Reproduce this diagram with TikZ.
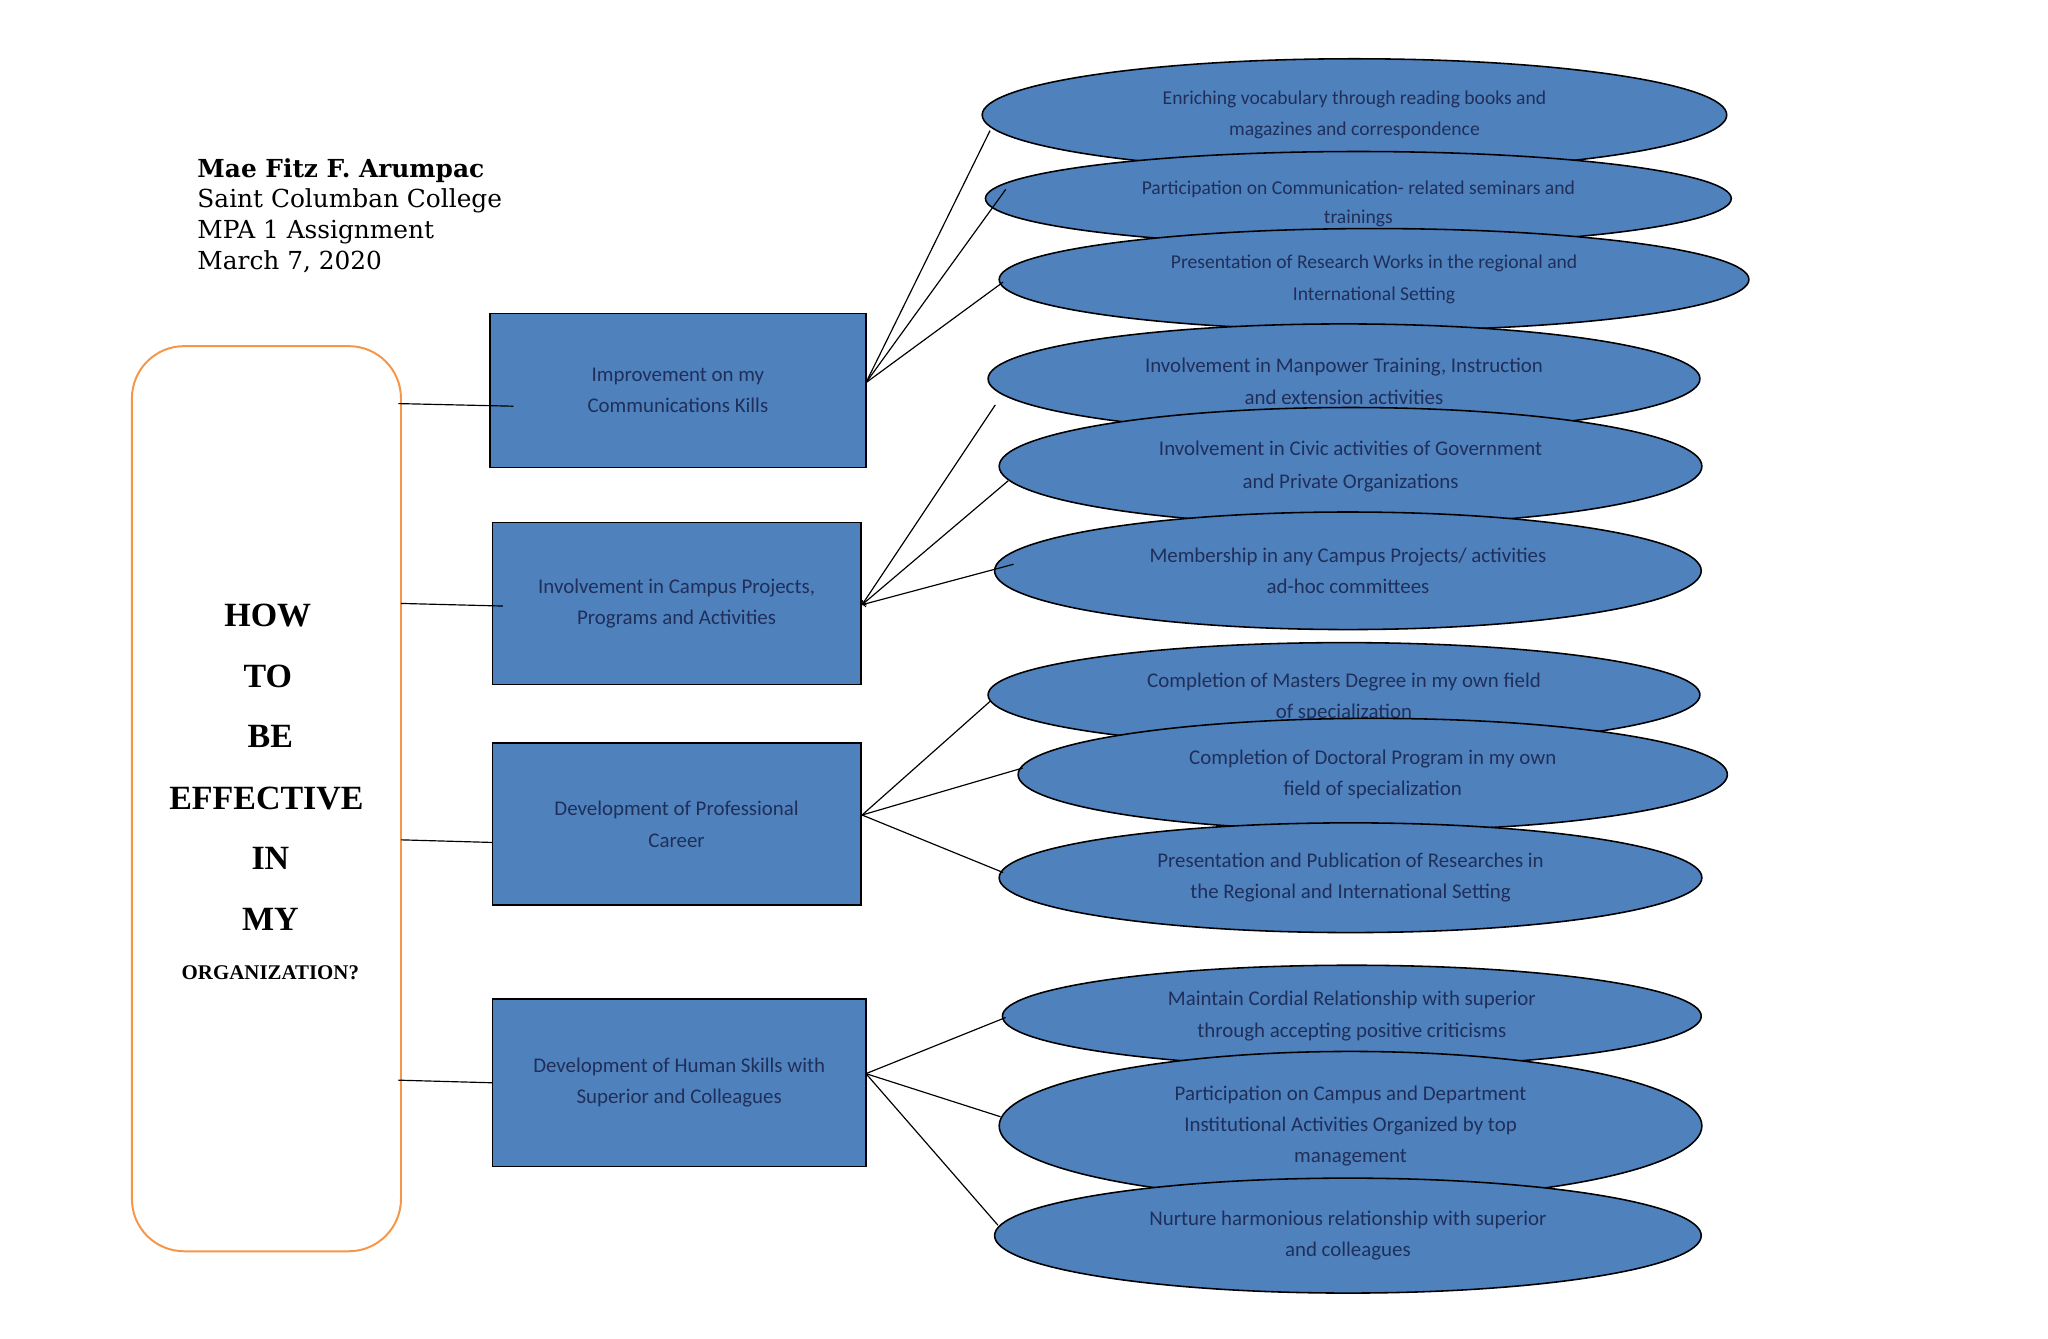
\documentclass[tikz,border=0pt]{standalone}
\usepackage{fontspec}
\setmainfont{Carlito}
\newfontfamily\hdr{DejaVu Serif}
\newfontfamily\tms{Liberation Serif}
\usetikzlibrary{shapes.geometric}
\definecolor{bfill}{HTML}{4F81BD}
\definecolor{btxt}{HTML}{1F2F5A}
\definecolor{org}{HTML}{F79646}
\begin{document}
\begin{tikzpicture}[x=1pt,y=-1pt,
 ell/.style={ellipse,draw=black,line width=1.2pt,fill=bfill,text=btxt,align=center,inner sep=0pt,font=\fontsize{15}{24}\selectfont},
 box/.style={rectangle,draw=black,line width=1.2pt,fill=bfill,text=btxt,align=center,font=\fontsize{16}{24}\selectfont},
 ln/.style={line width=0.9pt,black}]
\useasboundingbox (0,0) rectangle (1568,1025);
\fill[white] (0,0) rectangle (1568,1025);
\node[ell,minimum width=570,minimum height=86] (e1) at (1037,88) {Enriching vocabulary through reading books and\\magazines and correspondence};
\node[ell,minimum width=571,minimum height=72] (e2) at (1040,152) {};
\node[text=btxt,align=center,font=\fontsize{15}{22}\selectfont] (t2) at (1040,156) {Participation on Communication- related seminars and\\trainings};
\node[ell,minimum width=574,minimum height=78] (e3) at (1052,214) {Presentation of Research Works in the regional and\\International Setting};
\node[ell,minimum width=545,minimum height=84] (e4) at (1029,290) {};
\node[text=btxt,align=center,font=\fontsize{16}{24}\selectfont] (t4) at (1029,292) {Involvement in Manpower Training, Instruction\\and extension activities};
\node[ell,minimum width=538,minimum height=90,font=\fontsize{16}{25}\selectfont] (e5) at (1034,357) {Involvement in Civic activities of Government\\and Private Organizations};
\node[ell,minimum width=541,minimum height=90,font=\fontsize{16}{24}\selectfont] (e6) at (1032,437) {Membership in any Campus Projects/ activities\\ad-hoc committees};
\node[ell,minimum width=545,minimum height=80] (e7) at (1029,532) {};
\node[text=btxt,align=center,font=\fontsize{16}{24}\selectfont] (t7) at (1029,534) {Completion of Masters Degree in my own field\\of specialization};
\node[ell,minimum width=543,minimum height=86,font=\fontsize{16}{24}\selectfont] (e8) at (1051,593) {Completion of Doctoral Program in my own\\field of specialization};
\node[ell,minimum width=538,minimum height=84,font=\fontsize{16}{24}\selectfont] (e9) at (1034,672) {Presentation and Publication of Researches in\\the Regional and International Setting};
\node[ell,minimum width=535,minimum height=78,font=\fontsize{16}{24}\selectfont] (e10) at (1035,778) {Maintain Cordial Relationship with superior\\through accepting positive criticisms};
\node[ell,minimum width=538,minimum height=114,font=\fontsize{16}{24}\selectfont] (e11) at (1034,862) {Participation on Campus and Department\\Institutional Activities Organized by top\\management};
\node[ell,minimum width=541,minimum height=88,font=\fontsize{16}{24}\selectfont] (e12) at (1032,946) {Nurture harmonious relationship with superior\\and colleagues};
\node[box,minimum width=288,minimum height=118] (r1) at (519,299) {Improvement on my\\Communications Kills};
\node[box,minimum width=282,minimum height=124] (r2) at (518,462) {Involvement in Campus Projects,\\Programs and Activities};
\node[box,minimum width=282,minimum height=124] (r3) at (518,631) {Development of Professional\\Career};
\node[box,minimum width=286,minimum height=128] (r4) at (520,829) {Development of Human Skills with\\Superior and Colleagues};
\draw[org,line width=1.5pt,rounded corners=40] (101,265) rectangle (307,958);
\node[font=\tms\bfseries\fontsize{26}{26}\selectfont,align=center] (h) at (205,471) {HOW};
\node[font=\tms\bfseries\fontsize{26}{26}\selectfont] (h2) at (205,518) {TO};
\node[font=\tms\bfseries\fontsize{26}{26}\selectfont] (h3) at (207,564) {BE};
\node[font=\tms\bfseries\fontsize{26}{26}\selectfont] (h4) at (204,611) {EFFECTIVE};
\node[font=\tms\bfseries\fontsize{26}{26}\selectfont] (h5) at (207,657) {IN};
\node[font=\tms\bfseries\fontsize{26}{26}\selectfont] (h6) at (207,704) {MY};
\node[font=\tms\bfseries\fontsize{16}{16}\selectfont] (h7) at (207,745) {ORGANIZATION?};
\node[anchor=north west,align=left,font=\hdr\fontsize{19}{23.5}\selectfont,inner sep=0pt] (name) at (151,121) {\textbf{Mae Fitz F. Arumpac}\\Saint Columban College\\MPA 1 Assignment\\March 7, 2020};
% connectors
\coordinate (a1) at (305,309); \coordinate (b1) at (393,311);
\coordinate (a2) at (307,462); \coordinate (b2) at (385,464);
\coordinate (a3) at (307,643); \coordinate (b3) at (377,645);
\coordinate (a4) at (305,827); \coordinate (b4) at (377,829);
\draw[ln] (a1)--(b1); \draw[ln] (a2)--(b2); \draw[ln] (a3)--(b3); \draw[ln] (a4)--(b4);
\coordinate (p1) at (663,293);
\coordinate (p2) at (660,463);
\coordinate (p3) at (660,624);
\coordinate (p4) at (663,822);
\coordinate (q1) at (758,100); \coordinate (q2) at (770,145); \coordinate (q3) at (768,216);
\coordinate (q4) at (762,310); \coordinate (q5) at (772,368); \coordinate (q6) at (776,432);
\coordinate (q7) at (758,537); \coordinate (q8) at (783,588); \coordinate (q9) at (768,668);
\coordinate (q10) at (770,779); \coordinate (q11) at (766,855); \coordinate (q12) at (764,938);
\foreach \q in {q1,q2,q3} \draw[ln] (p1)--(\q);
\foreach \q in {q4,q5,q6} \draw[ln,->] (\q)--(p2);
\foreach \q in {q7,q8,q9} \draw[ln] (p3)--(\q);
\foreach \q in {q10,q11,q12} \draw[ln] (p4)--(\q);
\end{tikzpicture}
\end{document}
